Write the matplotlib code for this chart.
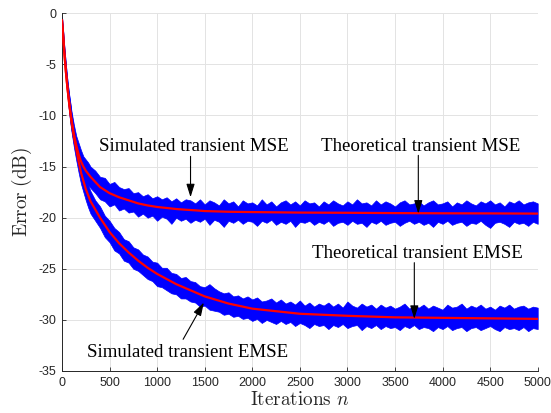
import matplotlib
matplotlib.use("Agg")
import matplotlib.pyplot as plt

plt.rcParams['axes.unicode_minus'] = False
plt.rcParams['mathtext.fontset'] = 'cm'

# ---------------- data ----------------
# theoretical curves (red)
theory_n = [0, 10, 25, 40, 50, 60, 75, 90, 100,
            125, 150, 175, 200, 225, 250, 275, 300,
            350, 400, 450, 500,
            600, 700, 800, 900, 1000,
            1100, 1200, 1300, 1400, 1500,
            1750, 2000, 2500, 3000, 3500, 4000, 4500, 5000]
mse_theory = [-0.7, -1.9, -3.9, -5.6, -6.6, -7.5, -8.7, -9.8, -10.4,
              -11.8, -12.9, -13.8, -14.5, -15.0, -15.4, -15.7, -16.0,
              -16.5, -17.0, -17.3, -17.6,
              -18.0, -18.3, -18.6, -18.8, -18.95,
              -19.05, -19.15, -19.22, -19.28, -19.35,
              -19.42, -19.45, -19.5, -19.52, -19.55, -19.57, -19.58, -19.6]
emse_theory = [-0.7, -1.9, -3.9, -5.6, -6.6, -7.5, -8.8, -9.9, -10.6,
               -12.1, -13.3, -14.5, -15.6, -16.4, -17.2, -17.8, -18.4,
               -19.2, -20.0, -20.7, -21.4,
               -22.5, -23.4, -24.2, -24.9, -25.5,
               -26.0, -26.5, -26.9, -27.3, -27.7,
               -28.4, -28.9, -29.4, -29.6, -29.75, -29.8, -29.85, -29.9]

# simulated curves (blue): upper / lower envelope of the noisy trace
band_n = [0, 10, 25, 40, 50, 60, 75, 90, 100,
          125, 150, 175, 200, 225, 250, 275, 300] + list(range(350, 5001, 50))

mse_sim_hi = [-0.3, -1.4, -3.3, -4.9, -5.9, -6.8, -7.9, -8.9, -9.6,
              -10.9, -12.0, -12.7, -13.4, -14.0, -14.3, -14.6, -15.0,
              -15.4, -16.0, -16.1, -16.7, -16.5, -17.0, -17.2, -17.1, -17.6, -17.5,
              -17.9, -17.7, -18.1, -17.9, -18.2, -18.0, -18.4, -18.1, -18.5, -18.2,
              -18.3, -18.6, -18.2, -18.7, -18.3, -18.5, -18.8, -18.2, -18.6, -18.4,
              -18.9, -18.3, -18.6, -18.5, -18.8, -18.2, -18.7, -18.4, -18.9, -18.5,
              -18.3, -18.7, -18.4, -18.8, -18.3, -18.6, -18.5, -18.9, -18.4, -18.7,
              -18.3, -18.6, -18.8, -18.4, -18.7, -18.2, -18.6, -18.5, -18.8, -18.3,
              -18.7, -18.4, -18.6, -18.9, -18.5, -18.3, -18.7, -18.6, -18.4, -18.8,
              -18.5, -18.3, -18.7, -18.6, -18.4, -18.9, -18.5, -18.7, -18.3, -18.6,
              -18.8, -18.4, -18.6, -18.3, -18.7, -18.5, -18.9, -18.4, -18.6, -18.3,
              -18.7, -18.5, -18.4, -18.6]
mse_sim_lo = [-1.0, -2.4, -4.5, -6.3, -7.4, -8.3, -9.6, -10.8, -11.4,
              -12.8, -13.9, -14.8, -15.5, -16.0, -16.5, -16.8, -17.1,
              -17.6, -18.2, -18.4, -18.9, -18.7, -19.3, -19.1, -19.5, -19.4, -19.9,
              -19.6, -20.0, -19.8, -20.3, -19.9, -20.1, -20.6, -20.0, -20.3, -20.1,
              -20.5, -20.2, -20.4, -20.1, -20.7, -20.2, -20.4, -20.9, -20.3, -20.5,
              -20.2, -20.6, -20.3, -20.4, -20.8, -20.3, -20.5, -20.2, -20.7, -20.4,
              -20.6, -20.3, -20.9, -20.4, -20.5, -20.3, -20.7, -20.4, -20.6, -20.3,
              -20.8, -20.5, -20.4, -20.7, -20.3, -20.6, -20.5, -20.9, -20.4, -20.6,
              -20.3, -20.7, -20.5, -20.4, -20.8, -20.5, -20.3, -20.6, -20.4, -20.7,
              -20.5, -20.9, -20.4, -20.6, -20.3, -20.7, -20.5, -20.4, -20.8, -20.5,
              -20.6, -20.3, -20.7, -21.0, -20.5, -20.4, -20.6, -20.9, -20.4, -20.6,
              -20.5, -20.8, -20.4, -20.6]
emse_sim_hi = [-0.3, -1.4, -3.3, -4.9, -5.9, -6.8, -8.0, -9.0, -9.8,
               -11.3, -12.5, -13.6, -14.6, -15.4, -16.2, -16.8, -17.4,
               -18.3, -18.9, -19.8, -20.3, -21.0, -21.4, -22.1, -22.3, -22.9, -23.1,
               -23.6, -23.8, -24.3, -24.4, -24.9, -24.9, -25.4, -25.5, -25.9, -25.8,
               -26.2, -26.3, -26.7, -26.8, -26.5, -26.9, -27.2, -27.4, -27.3, -27.7,
               -27.6, -27.9, -27.7, -28.0, -27.8, -28.2, -28.1, -27.9, -28.3, -28.0,
               -28.4, -28.2, -28.5, -28.1, -28.6, -28.3, -28.7, -28.4, -28.6, -28.3,
               -28.7, -28.4, -28.8, -28.2, -28.6, -28.8, -28.4, -28.7, -28.5, -28.9,
               -28.5, -28.8, -28.6, -28.9, -28.7, -28.4, -28.9, -28.6, -28.8, -28.5,
               -28.9, -28.6, -28.8, -29.0, -28.5, -28.8, -28.7, -28.4, -28.9, -28.6,
               -28.8, -28.5, -28.9, -28.7, -29.0, -28.6, -28.8, -28.5, -28.9, -28.7,
               -28.6, -28.9, -28.7, -28.8]
emse_sim_lo = [-1.0, -2.4, -4.5, -6.3, -7.4, -8.3, -9.7, -10.9, -11.6,
               -13.1, -14.4, -15.6, -16.7, -17.5, -18.3, -19.0, -19.6,
               -20.3, -21.0, -21.9, -22.4, -23.2, -23.5, -24.2, -24.4, -25.0, -25.2,
               -25.6, -26.0, -26.2, -26.7, -26.8, -27.1, -27.4, -27.5, -27.9, -27.9,
               -28.2, -28.3, -28.7, -28.6, -29.0, -29.1, -29.2, -29.5, -29.4, -29.7,
               -29.6, -29.9, -29.8, -30.1, -29.9, -30.3, -30.0, -30.2, -30.4, -30.1,
               -30.4, -30.2, -30.6, -30.3, -30.5, -30.8, -30.4, -30.6, -30.5, -30.9,
               -30.5, -30.7, -30.4, -30.8, -30.6, -30.5, -31.0, -30.6, -30.8, -30.5,
               -30.9, -30.6, -30.8, -30.7, -31.0, -30.6, -30.8, -30.5, -30.9, -30.7,
               -30.8, -31.1, -30.7, -30.9, -30.6, -31.0, -30.8, -30.7, -31.1, -30.8,
               -30.7, -31.0, -30.8, -30.6, -30.9, -31.1, -30.7, -30.9, -30.8, -31.0,
               -30.7, -31.1, -30.8, -30.9]

x_ticks = [0, 500, 1000, 1500, 2000, 2500, 3000, 3500, 4000, 4500, 5000]
y_ticks = [0, -5, -10, -15, -20, -25, -30, -35]

# annotations: (text, text position, arrow tail, arrow tip)
annotations = [
    ("Simulated transient MSE", (1385, -13.0), (1351, -14.0), (1351, -18.0)),
    ("Theoretical transient MSE", (3773, -13.0), (3745, -13.9), (3745, -19.6)),
    ("Theoretical transient EMSE", (3731, -23.5), (3703, -24.4), (3703, -29.9)),
    ("Simulated transient EMSE", (1322, -33.2), (1273, -31.9), (1491, -28.3)),
]

# ---------------- figure ----------------
fig = plt.figure(figsize=(5.51, 4.13), dpi=100)
ax = fig.add_axes([0.1125, 0.1017, 0.8634, 0.8661])

blue = '#0000ff'
red = '#ff0000'
ax.fill_between(band_n, emse_sim_lo, emse_sim_hi, color=blue, lw=0.5, zorder=2)
ax.fill_between(band_n, mse_sim_lo, mse_sim_hi, color=blue, lw=0.5, zorder=2)
ax.plot(theory_n, emse_theory, color=red, lw=1.6, zorder=3)
ax.plot(theory_n, mse_theory, color=red, lw=1.6, zorder=3)

ax.set_xlim(0, 5000)
ax.set_ylim(-35, 0)
ax.set_xticks(x_ticks)
ax.set_yticks(y_ticks)
ax.set_xticklabels([str(v) for v in x_ticks], family='Liberation Sans', fontsize=9)
ax.set_yticklabels([str(v) for v in y_ticks], family='Liberation Sans', fontsize=9)
ax.tick_params(direction='in', length=3, width=0.6, colors='#262626', pad=4)

ax.grid(True, color='#e3e3e3', lw=0.7, zorder=0)
ax.set_axisbelow(True)
for s in ['top', 'right']:
    ax.spines[s].set_visible(False)
for s in ['left', 'bottom']:
    ax.spines[s].set_color('#262626')
    ax.spines[s].set_linewidth(0.7)

ax.set_xlabel(r'$\mathrm{Iterations}\ n$', fontsize=13.8, color='#262626', labelpad=1)
ax.set_ylabel(r'$\mathrm{Error\ (dB)}$', fontsize=13.8, color='#262626', labelpad=3)

for txt, tpos, tail, tip in annotations:
    ax.text(tpos[0], tpos[1], txt, family='Liberation Serif', fontsize=13.6,
            ha='center', va='center', color='black', zorder=5)
    ax.annotate('', xy=tip, xytext=tail,
                arrowprops=dict(arrowstyle='-|>,head_length=0.8,head_width=0.25',
                                color='black', lw=0.8, shrinkA=0, shrinkB=0),
                zorder=5)

fig.savefig('out.png', dpi=100)
